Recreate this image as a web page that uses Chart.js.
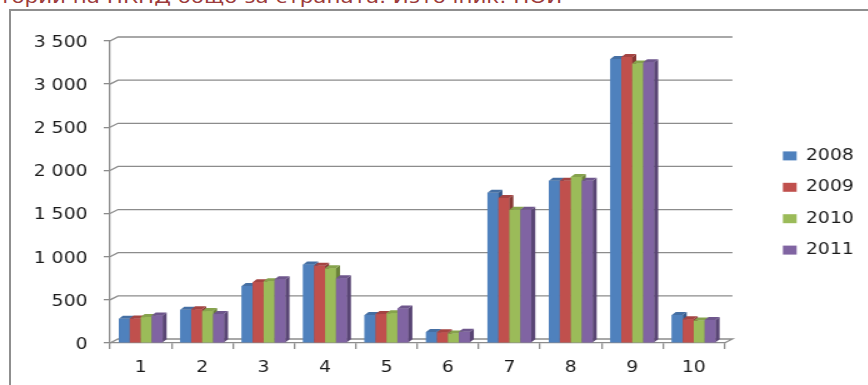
<!DOCTYPE html>
<html>
<head>
<meta charset="utf-8">
<script src="https://cdn.jsdelivr.net/npm/chart.js@4.4.0/dist/chart.umd.min.js"></script>
<style>
  html, body { margin: 0; padding: 0; background: #fff; width: 868px; height: 385px; overflow: hidden; }
  #caption {
    position: absolute; left: -1px; top: -13px;
    font: 17px/20px "DejaVu Sans", sans-serif; color: #9c3a3a;
    white-space: nowrap; transform: scaleX(1.26); transform-origin: 0 0;
  }
  #frame {
    position: absolute; left: 9px; top: 9px; width: 900px; height: 400px;
    border: 2px solid #8f8f8f;
  }
  #wrap {
    position: absolute; left: 0; top: 0; width: 720px; height: 385px;
    transform: scaleX(1.25); transform-origin: 0 0;
  }
</style>
</head>
<body>
<div id="caption">тории на НКПД общо за страната. Източник: НОИ</div>
<div id="frame"></div>
<div id="wrap"><canvas id="chart" width="720" height="385"></canvas></div>
<script>
// data
const categories = ['1', '2', '3', '4', '5', '6', '7', '8', '9', '10'];
const years = ['2008', '2009', '2010', '2011'];
const v2008 = [280, 385, 660, 910, 325, 127, 1740, 1880, 3290, 325];
const v2009 = [285, 390, 705, 895, 335, 125, 1680, 1880, 3315, 275];
const v2010 = [300, 370, 715, 865, 345, 110, 1545, 1925, 3240, 260];
const v2011 = [320, 335, 740, 750, 400, 130, 1545, 1880, 3255, 268];
const yTicks = [0, 500, 1000, 1500, 2000, 2500, 3000, 3500];

const frontColors = ['#4f81bd', '#c0504d', '#9bbb59', '#8064a2'];
const topColors = ['#456fa3', '#a54442', '#86a34c', '#6e568c'];
const sideColors = ['#36598a', '#863734', '#6a8139', '#594574'];

// 3d look (canvas units, the canvas is stretched 1.25x wide)
const barDepth = { x: 3.2, y: 3 };
const wallDepth = { x: 6.4, y: 4 };
const lineGrey = '#8c8c8c';

function fmt(v) {
  if (v < 1000) return String(v);
  return Math.floor(v / 1000) + ' ' + String(v % 1000).padStart(3, '0');
}

const threeD = {
  id: 'threeD',
  beforeDatasetsDraw(chart) {
    const { ctx, chartArea: a } = chart;
    const y = chart.scales.y;
    ctx.save();
    ctx.strokeStyle = lineGrey;
    ctx.lineWidth = 1.3;
    yTicks.forEach(t => {
      const py = y.getPixelForValue(t);
      ctx.beginPath();
      ctx.moveTo(a.left, py);
      ctx.lineTo(a.left + wallDepth.x, py - wallDepth.y);
      ctx.lineTo(a.right + wallDepth.x, py - wallDepth.y);
      if (t === 0) ctx.lineTo(a.right, py);
      ctx.stroke();
    });
    ctx.restore();
  },
  afterDatasetsDraw(chart) {
    const ctx = chart.ctx;
    ctx.save();
    for (let i = 0; i < categories.length; i++) {
      chart.data.datasets.forEach((ds, d) => {
        const bar = chart.getDatasetMeta(d).data[i];
        const p = bar.getProps(['x', 'y', 'base', 'width'], true);
        const l = p.x - p.width / 2, r = p.x + p.width / 2;
        ctx.fillStyle = frontColors[d];
        ctx.fillRect(l, p.y, p.width, p.base - p.y);
        ctx.fillStyle = sideColors[d];
        ctx.beginPath();
        ctx.moveTo(r, p.y);
        ctx.lineTo(r + barDepth.x, p.y - barDepth.y);
        ctx.lineTo(r + barDepth.x, p.base - barDepth.y);
        ctx.lineTo(r, p.base);
        ctx.closePath();
        ctx.fill();
        ctx.fillStyle = topColors[d];
        ctx.beginPath();
        ctx.moveTo(l, p.y);
        ctx.lineTo(l + barDepth.x, p.y - barDepth.y);
        ctx.lineTo(r + barDepth.x, p.y - barDepth.y);
        ctx.lineTo(r, p.y);
        ctx.closePath();
        ctx.fill();
      });
    }
    ctx.restore();
  }
};

Chart.defaults.font.family = "'DejaVu Sans', sans-serif";
Chart.defaults.font.size = 15;
Chart.defaults.color = '#1a1a1a';

const series = [v2008, v2009, v2010, v2011];

new Chart(document.getElementById('chart'), {
  type: 'bar',
  data: {
    labels: categories,
    datasets: years.map((yr, k) => ({
      label: yr,
      data: series[k],
      backgroundColor: frontColors[k],
      borderWidth: 0,
      categoryPercentage: 0.713,
      barPercentage: 1
    }))
  },
  options: {
    responsive: false,
    animation: false,
    events: [],
    layout: { padding: { left: 8, right: 27, top: 41, bottom: 0 } },
    plugins: {
      legend: {
        position: 'right',
        fullSize: false,
        // empty title only nudges the items down a little
        title: { display: true, text: ' ', padding: { top: 4, bottom: 0 } },
        labels: { boxWidth: 11, boxHeight: 9, padding: 16.4, color: '#1a1a1a' }
      },
      tooltip: { enabled: false }
    },
    scales: {
      x: {
        grid: { drawOnChartArea: false, tickLength: 6, color: lineGrey, lineWidth: 1.3 },
        border: { color: lineGrey, width: 1.3 },
        ticks: { padding: 10, maxRotation: 0 },
        afterFit(s) { s.height = 42; }
      },
      y: {
        min: 0,
        max: 3500,
        afterBuildTicks(s) { s.ticks = yTicks.map(v => ({ value: v })); },
        grid: { drawOnChartArea: false, tickLength: 5, color: lineGrey, lineWidth: 1.3 },
        border: { color: lineGrey, width: 1.3 },
        ticks: { padding: 13, labelOffset: 2, callback: v => fmt(v) },
        afterFit(s) { s.width = 80; }
      },
      gap: {
        type: 'linear',
        position: 'right',
        grid: { display: false },
        border: { display: false },
        ticks: { display: false },
        afterFit(s) { s.width = 30.4; }
      }
    }
  },
  plugins: [threeD]
});
</script>
</body>
</html>
